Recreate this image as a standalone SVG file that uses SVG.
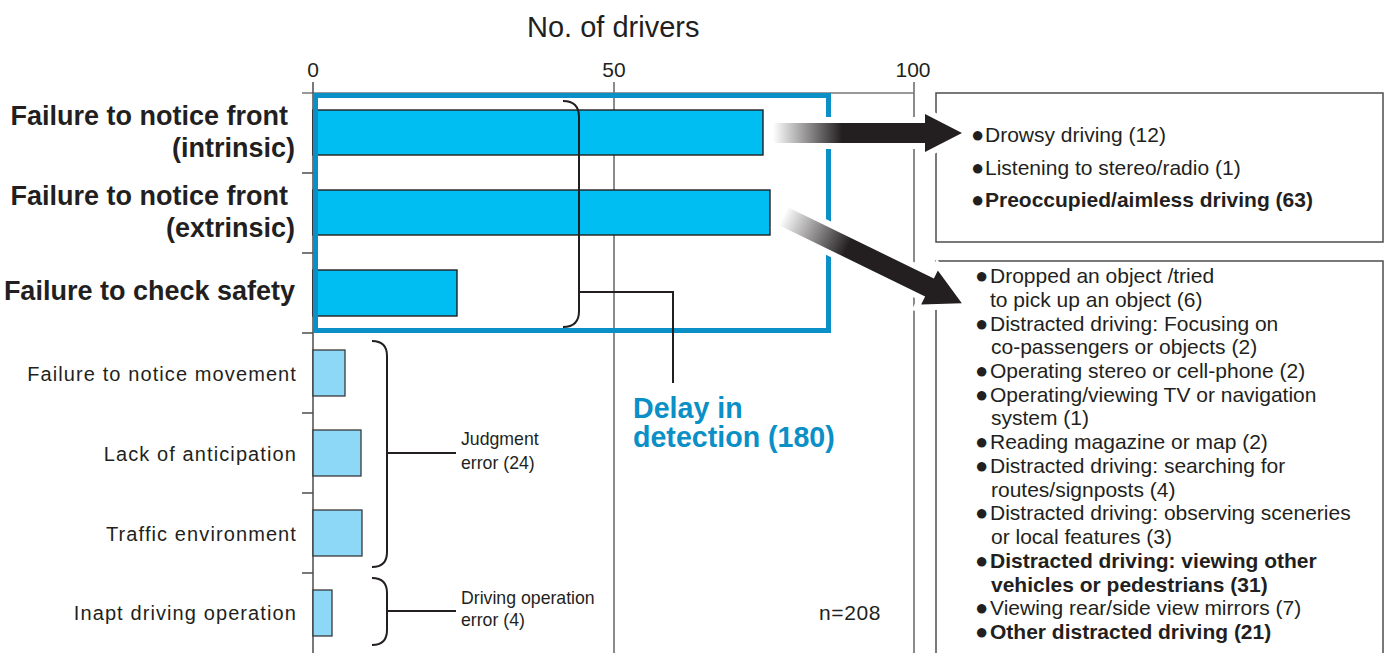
<svg xmlns="http://www.w3.org/2000/svg" width="1389" height="653" viewBox="0 0 1389 653">
  <style>
    text { font-family: "Liberation Sans", Arial, "DejaVu Sans", sans-serif; fill: #231f20; }
    .title { font-size: 29px; }
    .tick { font-size: 21px; text-anchor: middle; }
    .big { font-size: 27px; font-weight: bold; text-anchor: end; }
    .cat { font-size: 20px; letter-spacing: 1.1px; text-anchor: end; }
    .grp { font-size: 17.7px; }
    .item { font-size: 21px; }
    .b { font-weight: bold; }
    .dot { font-size: 22px; font-weight: normal; }
    .delay { font-size: 28.6px; font-weight: bold; fill: #0a8fc6; }
    .grid { stroke: #4d4d4d; stroke-width: 1.3; fill: none; }
    .bar1 { fill: #00bdf2; stroke: #231f20; stroke-width: 1.4; }
    .bar2 { fill: #8ed8f7; stroke: #3a3a3a; stroke-width: 1.3; }
    .brace { fill: none; stroke: #231f20; stroke-width: 2; }
    .panel { fill: none; stroke: #4d4d4d; stroke-width: 1.5; }
    .arrow { stroke: #ffffff; stroke-width: 12; paint-order: stroke; stroke-linejoin: miter; }
  </style>
  <defs>
    <linearGradient id="fade1" gradientUnits="userSpaceOnUse" x1="773" y1="0" x2="842" y2="0">
      <stop offset="0" stop-color="#ffffff"/>
      <stop offset="1" stop-color="#231f20"/>
    </linearGradient>
    <linearGradient id="fade2" gradientUnits="userSpaceOnUse" x1="0" y1="0" x2="72" y2="0">
      <stop offset="0" stop-color="#ffffff"/>
      <stop offset="1" stop-color="#231f20"/>
    </linearGradient>
  </defs>

  <!-- axis and grid -->
  <g id="axes">
    <text class="title" x="527" y="37">No. of drivers</text>
    <text class="tick" x="313" y="77">0</text>
    <text class="tick" x="614" y="77">50</text>
    <text class="tick" x="913" y="77">100</text>
    <line class="grid" x1="614" y1="82" x2="614" y2="653"/>
    <line class="grid" x1="914" y1="82" x2="914" y2="653"/>
    <line x1="302" y1="93" x2="914" y2="93" stroke="#777" stroke-width="1.5"/>
    <line x1="313" y1="82" x2="313" y2="653" stroke="#4d4d4d" stroke-width="1.5"/>
    <path class="grid" d="M302,173H313M302,253H313M302,333H313M302,413H313M302,493H313M302,573H313"/>
    <text x="819" y="620" style="font-size:21px;letter-spacing:0.6px">n=208</text>
  </g>

  <!-- detection-delay categories -->
  <g id="front-intrinsic">
    <rect class="bar1" x="313" y="110" width="450" height="45"/>
    <text class="big" x="288" y="125">Failure to notice front</text>
    <text class="big" x="295" y="157">(intrinsic)</text>
  </g>
  <g id="front-extrinsic">
    <rect class="bar1" x="313" y="190" width="457" height="45"/>
    <text class="big" x="288" y="205">Failure to notice front</text>
    <text class="big" x="295" y="237">(extrinsic)</text>
  </g>
  <g id="check-safety">
    <rect class="bar1" x="313" y="270" width="144" height="46"/>
    <text class="big" x="295" y="300">Failure to check safety</text>
  </g>
  <g id="delay-box">
    <rect x="315.5" y="95.5" width="513" height="235" fill="none" stroke="#0a8fc6" stroke-width="5"/>
  </g>

  <!-- other categories -->
  <g id="notice-movement">
    <rect class="bar2" x="313" y="350" width="32" height="46"/>
    <text class="cat" x="297" y="381">Failure to notice movement</text>
  </g>
  <g id="anticipation">
    <rect class="bar2" x="313" y="430" width="48" height="46"/>
    <text class="cat" x="297" y="461">Lack of anticipation</text>
  </g>
  <g id="traffic">
    <rect class="bar2" x="313" y="510" width="49" height="46"/>
    <text class="cat" x="297" y="541">Traffic environment</text>
  </g>
  <g id="inapt-operation">
    <rect class="bar2" x="313" y="590" width="19" height="46"/>
    <text class="cat" x="297" y="620">Inapt driving operation</text>
  </g>

  <!-- group labels -->
  <g id="delay-label">
    <text class="delay" x="633" y="418">Delay in</text>
    <text class="delay" x="633" y="447">detection (180)</text>
  </g>
  <g id="judgment-label">
    <text class="grp" x="461" y="445">Judgment</text>
    <text class="grp" x="461" y="469">error (24)</text>
  </g>
  <g id="operation-label">
    <text class="grp" x="461" y="604">Driving operation</text>
    <text class="grp" x="461" y="626">error (4)</text>
  </g>

  <!-- detail panels -->
  <g id="panel-intrinsic">
    <rect class="panel" x="936" y="93" width="447" height="149"/>
  </g>
  <g id="panel-extrinsic">
    <rect class="panel" x="936" y="261" width="447" height="400"/>
  </g>

  <!-- connectors -->
  <g id="connectors">
    <path class="brace" d="M563,101Q579,101 579,117V311Q579,327 563,327M579,292H673V383"/>
    <path class="brace" d="M372,341Q387,341 387,356V552Q387,567 372,567M387,453H456"/>
    <path class="brace" d="M372,578Q387,578 387,593V630Q387,645 372,645M387,611H456"/>
    <path class="arrow" fill="url(#fade1)" d="M773,123H925V114L962,133L925,152V143H773Z"/>
    <g transform="translate(783,216) rotate(26)">
      <path class="arrow" fill="url(#fade2)" d="M0,-10H163V-19L199,0L163,19V10H0Z"/>
    </g>
  </g>

  <!-- panel texts -->
  <g id="panel-intrinsic-text">
    <text class="item" x="971" y="142"><tspan class="dot" dy="0">●</tspan><tspan x="985" y="142">Drowsy driving (12)</tspan></text>
    <text class="item" x="971" y="175"><tspan class="dot" dy="0">●</tspan><tspan x="985" y="175">Listening to stereo/radio (1)</tspan></text>
    <text class="item b" x="971" y="207"><tspan class="dot" dy="0">●</tspan><tspan x="985" y="207">Preoccupied/aimless driving (63)</tspan></text>
  </g>
  <g id="panel-extrinsic-text">
    <text class="item" x="975" y="283"><tspan class="dot" dy="0">●</tspan><tspan x="990" y="283">Dropped an object /tried</tspan></text>
    <text class="item" x="990" y="306.5">to pick up an object (6)</text>
    <text class="item" x="975" y="330.5"><tspan class="dot" dy="0">●</tspan><tspan x="990" y="330.5">Distracted driving: Focusing on</tspan></text>
    <text class="item" x="991" y="354">co-passengers or objects (2)</text>
    <text class="item" x="975" y="378"><tspan class="dot" dy="0">●</tspan><tspan x="990" y="378">Operating stereo or cell-phone (2)</tspan></text>
    <text class="item" x="975" y="401.5"><tspan class="dot" dy="0">●</tspan><tspan x="990" y="401.5">Operating/viewing TV or navigation</tspan></text>
    <text class="item" x="991" y="425">system (1)</text>
    <text class="item" x="975" y="449"><tspan class="dot" dy="0">●</tspan><tspan x="990" y="449">Reading magazine or map (2)</tspan></text>
    <text class="item" x="975" y="473"><tspan class="dot" dy="0">●</tspan><tspan x="990" y="473">Distracted driving: searching for</tspan></text>
    <text class="item" x="991" y="496.5">routes/signposts (4)</text>
    <text class="item" x="975" y="520"><tspan class="dot" dy="0">●</tspan><tspan x="990" y="520">Distracted driving: observing sceneries</tspan></text>
    <text class="item" x="991" y="544">or local features (3)</text>
    <text class="item b" x="975" y="568"><tspan class="dot" dy="0">●</tspan><tspan x="990" y="568">Distracted driving: viewing other</tspan></text>
    <text class="item b" x="991" y="591.5">vehicles or pedestrians (31)</text>
    <text class="item" x="975" y="615"><tspan class="dot" dy="0">●</tspan><tspan x="990" y="615">Viewing rear/side view mirrors (7)</tspan></text>
    <text class="item b" x="975" y="639"><tspan class="dot" dy="0">●</tspan><tspan x="990" y="639">Other distracted driving (21)</tspan></text>
  </g>
</svg>
